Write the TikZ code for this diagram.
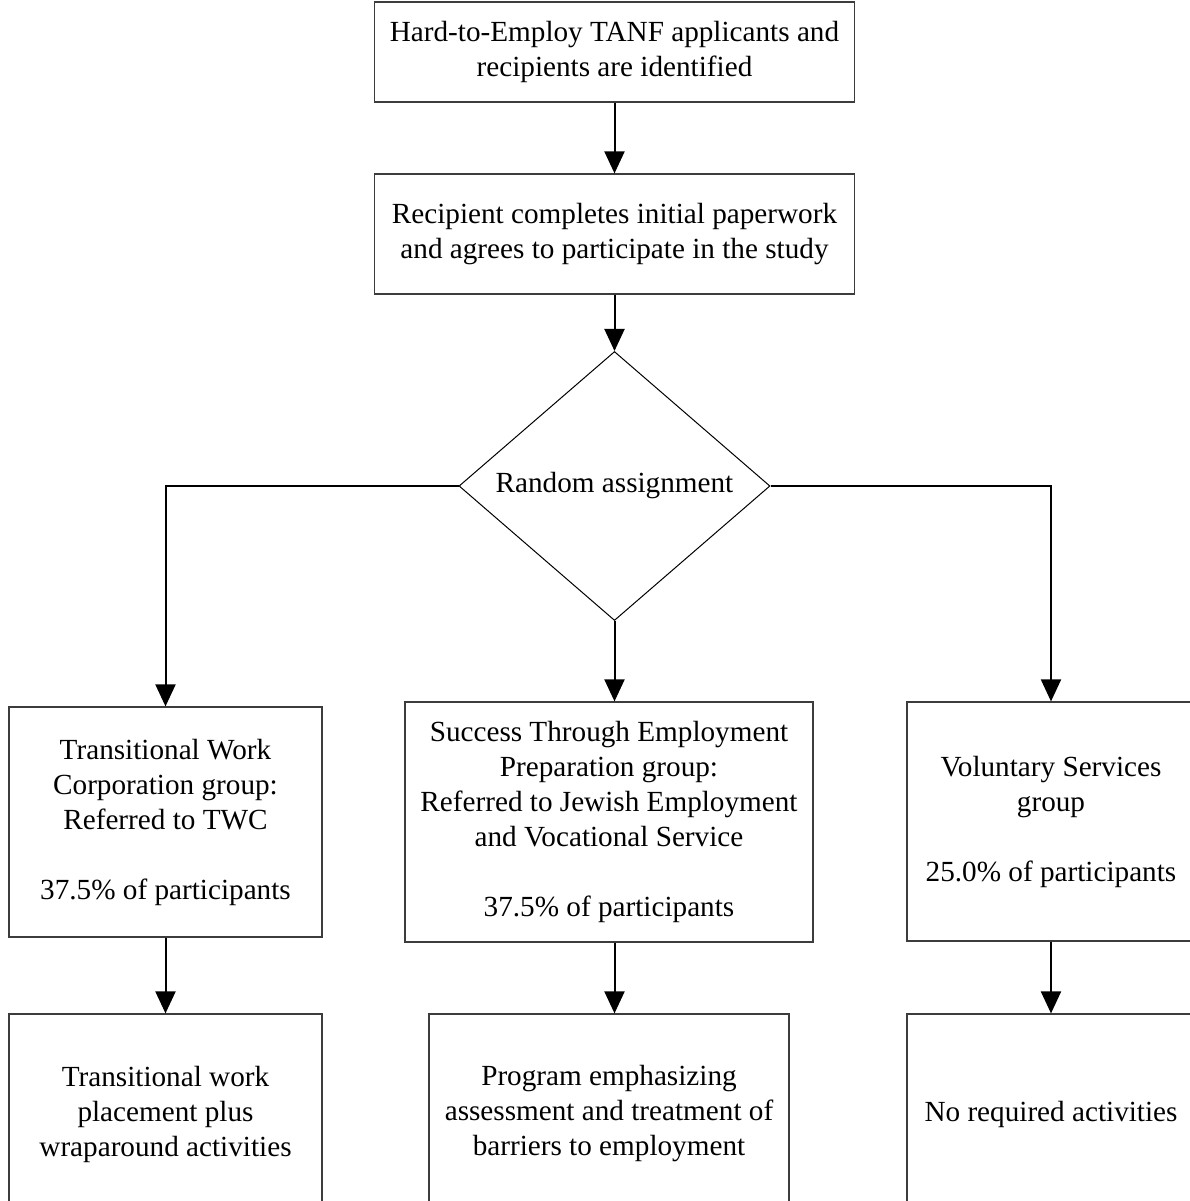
\documentclass[tikz,border=0pt]{standalone}
\usepackage{fontspec}
\setmainfont{Liberation Serif}
\usetikzlibrary{arrows.meta,shapes.geometric}

\begin{document}
\begin{tikzpicture}[
    x=0.5pt, y=-0.5pt,
    >={Triangle[length=11pt,width=10pt]},
    font=\fontsize{14.6}{17.5}\selectfont,
    bx/.style={draw=boxline,line width=0.6pt,align=center,inner sep=0pt},
    dc/.style={draw=black,line width=0.5pt,shape=diamond,aspect=1.156,inner sep=0pt,
               minimum width=155.5pt,minimum height=134.5pt},
    ln/.style={draw=black,line width=1pt},
]
\definecolor{boxline}{RGB}{60,60,60}
\useasboundingbox (0,0) rectangle (1190,1201);

% ================= intake =================
\node[bx,minimum width=240pt,minimum height=50pt] (ident) at (614.5,52) {Hard-to-Employ TANF applicants and\\recipients are identified};
\node[bx,minimum width=240pt,minimum height=60pt] (paper) at (614.5,234) {Recipient completes initial paperwork\\and agrees to participate in the study};
\node[dc] (dia) at (614.5,486) {Random assignment};

% ================= the three groups =================
\node[bx,minimum width=156.5pt,minimum height=115pt] (twc) at (165.5,822) {Transitional Work\\Corporation group:\\Referred to TWC\\[17.5pt]37.5\% of participants};
\node[bx,minimum width=204pt,minimum height=120pt] (step) at (609,822) {Success Through Employment\\Preparation group:\\Referred to Jewish Employment\\and Vocational Service\\[17.5pt]37.5\% of participants};
\node[bx,minimum width=144pt,minimum height=119.5pt] (vol) at (1051,821.5) {Voluntary Services\\group\\[17.5pt]25.0\% of participants};

% ================= what each group gets =================
\node[bx,minimum width=156.5pt,minimum height=100pt] (twcact) at (165.5,1114) {Transitional work\\placement plus\\wraparound activities};
\node[bx,minimum width=180pt,minimum height=100pt] (stepact) at (609,1114) {Program emphasizing\\assessment and treatment of\\barriers to employment};
\node[bx,minimum width=144pt,minimum height=100pt] (volact) at (1051,1114) {No required activities};

% ================= connectors =================
\draw[ln,->] (ident) -- (paper);
\draw[ln,->] (paper) -- (dia);
\draw[ln,->] (dia.west) -| (twc.north);
\draw[ln,->] (dia.south) -- (dia.south |- step.north);
\draw[ln,->] (dia.east) -| (vol.north);
\draw[ln,->] (twc) -- (twcact);
\draw[ln,->] (dia.south |- step.south) -- (dia.south |- stepact.north);
\draw[ln,->] (vol) -- (volact);

\end{tikzpicture}
\end{document}
